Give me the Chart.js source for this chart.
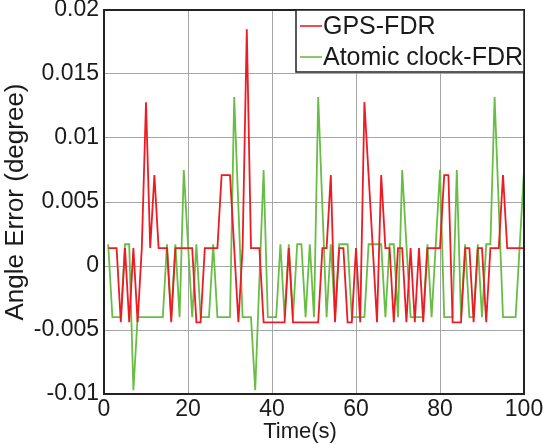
<!DOCTYPE html>
<html>
<head>
<meta charset="utf-8">
<script src="https://cdn.jsdelivr.net/npm/chart.js@4/dist/chart.umd.min.js"></script>
<style>
  html, body { margin: 0; padding: 0; background: #fff; }
  #wrap { width: 547px; height: 445px; }
</style>
</head>
<body>
<div id="wrap"><canvas id="errChart" width="547" height="445"></canvas></div>
<script>
// sample times (s)
const timeS = [1, 2, 3, 4, 5, 6, 7, 8, 9, 10, 11, 12, 13, 14, 15, 16, 17, 18, 19, 20,
  21, 22, 23, 24, 25, 26, 27, 28, 29, 30, 31, 32, 33, 34, 35, 36, 37, 38, 39, 40,
  41, 42, 43, 44, 45, 46, 47, 48, 49, 50, 51, 52, 53, 54, 55, 56, 57, 58, 59, 60,
  61, 62, 63, 64, 65, 66, 67, 68, 69, 70, 71, 72, 73, 74, 75, 76, 77, 78, 79, 80,
  81, 82, 83, 84, 85, 86, 87, 88, 89, 90, 91, 92, 93, 94, 95, 96, 97, 98, 99, 100];

// angle error, GPS-FDR (degree)
const gpsFdr = [
  0.0014, 0.0014, 0.0014, -0.0044, 0.0014, -0.0044, 0.0014, -0.0044, 0.0014, 0.0128,
  0.0014, 0.0071, 0.0014, 0.0014, 0.0014, -0.0044, 0.0014, 0.0014, 0.0014, 0.0014,
  0.0014, -0.0044, -0.0044, 0.0014, 0.0014, 0.0014, 0.0014, 0.0071, 0.0071, 0.0071,
  0.0014, -0.0044, 0.0014, 0.0185, 0.0014, 0.0014, 0.0014, -0.0044, -0.0044, -0.0044,
  -0.0044, -0.0044, -0.0044, 0.0014, -0.0044, -0.0044, -0.0044, -0.0044, -0.0044, -0.0044,
  -0.0044, 0.0014, 0.0014, 0.0071, -0.0044, 0.0014, 0.0014, -0.0044, -0.0044, 0.0014,
  -0.0044, 0.0128, 0.0071, 0.0014, -0.0044, 0.0071, 0.0014, 0.0014, -0.0044, 0.0014,
  0.0014, -0.0044, 0.0014, -0.0044, 0.0014, -0.0044, 0.0014, 0.0014, 0.0014, 0.0014,
  0.0071, 0.0071, -0.0044, -0.0044, -0.0044, 0.0014, 0.0014, -0.0044, 0.0014, 0.0014,
  -0.0044, 0.0014, 0.0014, 0.0014, 0.0071, 0.0014, 0.0014, 0.0014, 0.0014, 0.0014];

// angle error, Atomic clock-FDR (degree)
const atomicFdr = [
  0.0017, -0.004, -0.004, -0.004, 0.0017, 0.0017, -0.0097, -0.004, -0.004, -0.004,
  -0.004, -0.004, -0.004, -0.004, 0.0017, -0.004, 0.0017, -0.004, 0.0075, 0.0017,
  -0.004, 0.0017, -0.004, -0.004, -0.004, 0.0017, -0.004, -0.004, -0.004, -0.004,
  0.0132, 0.0046, -0.004, -0.004, -0.004, -0.0097, -0.0011, 0.0075, -0.004, -0.004,
  -0.004, 0.0017, -0.004, 0.0017, -0.004, 0.0017, 0.0017, -0.004, 0.0017, -0.004,
  0.0132, 0.0046, -0.004, 0.0017, -0.004, 0.0017, 0.0017, 0.0017, -0.004, -0.004,
  -0.004, -0.004, 0.0017, 0.0017, 0.0017, 0.0017, -0.004, 0.0017, 0.0017, -0.004,
  0.0075, 0.0017, -0.004, -0.004, -0.004, -0.004, 0.0017, -0.004, 0.0017, 0.0075,
  -0.004, -0.004, -0.004, 0.0075, -0.004, 0.0017, -0.004, -0.004, 0.0017, -0.004,
  0.0017, 0.0017, 0.0132, 0.0046, -0.004, -0.004, -0.004, -0.004, 0.0017, 0.0075];

const xTicks = [0, 20, 40, 60, 80, 100];
const yTicks = [-0.01, -0.005, 0, 0.005, 0.01, 0.015, 0.02];
const yTickLabels = ['-0.01', '-0.005', '0', '0.005', '0.01', '0.015', '0.02'];

const seriesNames = ['GPS-FDR', 'Atomic clock-FDR'];
const RED = 'rgb(236, 28, 36)';
const GREEN = 'rgb(104, 189, 69)';
const FONT = '"Liberation Sans", Arial, Helvetica, sans-serif';

const toPoints = (vals) => vals.map((v, i) => ({ x: timeS[i], y: v }));

// black box around the axes, MATLAB style
const frameBox = {
  id: 'frameBox',
  afterDatasetsDraw(chart) {
    const { ctx, chartArea: a } = chart;
    ctx.save();
    ctx.strokeStyle = '#222';
    ctx.lineWidth = 2;
    ctx.strokeRect(a.left, a.top, a.right - a.left, a.bottom - a.top);
    ctx.restore();
  }
};

// legend box in the top right corner of the axes
const boxLegend = {
  id: 'boxLegend',
  afterDraw(chart) {
    const { ctx, chartArea: a } = chart;
    const w = 228, h = 62;
    const x = a.right - w, y = a.top;
    ctx.save();
    ctx.fillStyle = '#fff';
    ctx.fillRect(x, y, w, h);
    ctx.strokeStyle = '#222';
    ctx.lineWidth = 1.5;
    ctx.strokeRect(x, y, w, h);
    const rows = [[seriesNames[0], RED, y + 16], [seriesNames[1], GREEN, y + 47]];
    ctx.font = '25px ' + FONT;
    ctx.textBaseline = 'middle';
    rows.forEach(([label, col, ly]) => {
      ctx.strokeStyle = col;
      ctx.lineWidth = 1.6;
      ctx.beginPath();
      ctx.moveTo(x + 4, ly);
      ctx.lineTo(x + 26, ly);
      ctx.stroke();
      ctx.fillStyle = '#1a1a1a';
      ctx.fillText(label, x + 27, ly + 1);
    });
    ctx.restore();
  }
};

// axis titles
const axisTitles = {
  id: 'axisTitles',
  afterDraw(chart) {
    const { ctx, chartArea: a } = chart;
    ctx.save();
    ctx.fillStyle = '#1a1a1a';
    ctx.textAlign = 'center';
    ctx.textBaseline = 'middle';
    ctx.font = '22px ' + FONT;
    ctx.fillText('Time(s)', 300, 432);
    ctx.translate(16, (a.top + a.bottom) / 2);
    ctx.rotate(-Math.PI / 2);
    ctx.font = '26px ' + FONT;
    ctx.fillText('Angle Error (degree)', 0, 0);
    ctx.restore();
  }
};

const ctx = document.getElementById('errChart').getContext('2d');
const errChart = new Chart(ctx, {
  type: 'line',
  data: {
    datasets: [{
      label: seriesNames[0],
      data: toPoints(gpsFdr),
      borderColor: RED,
      borderWidth: 1.8,
      pointRadius: 0,
      tension: 0,
      fill: false
    }, {
      label: seriesNames[1],
      data: toPoints(atomicFdr),
      borderColor: GREEN,
      borderWidth: 1.8,
      pointRadius: 0,
      tension: 0,
      fill: false
    }]
  },
  options: {
    responsive: false,
    animation: false,
    devicePixelRatio: 1,
    layout: { padding: { left: 0, right: 23, top: 10, bottom: 0 } },
    plugins: {
      legend: { display: false },
      tooltip: { enabled: false }
    },
    scales: {
      x: {
        type: 'linear',
        min: 0,
        max: 100,
        afterBuildTicks: (s) => { s.ticks = xTicks.map(v => ({ value: v })); },
        afterFit: (s) => { s.height = 51; s.paddingLeft = 0; s.paddingRight = 0; },
        ticks: {
          color: '#1a1a1a',
          font: { family: FONT, size: 23 },
          padding: 2,
          maxRotation: 0
        },
        grid: { color: '#a6a6a6', lineWidth: 1, drawTicks: false },
        border: { display: false }
      },
      y: {
        type: 'linear',
        min: -0.01,
        max: 0.02,
        afterBuildTicks: (s) => { s.ticks = yTicks.map(v => ({ value: v })); },
        afterFit: (s) => { s.width = 104; s.paddingTop = 0; s.paddingBottom = 0; },
        ticks: {
          color: '#1a1a1a',
          font: { family: FONT, size: 23 },
          padding: 5,
          callback: (v, i) => yTickLabels[i]
        },
        grid: { color: '#a6a6a6', lineWidth: 1, drawTicks: false },
        border: { display: false }
      }
    }
  },
  plugins: [frameBox, boxLegend, axisTitles]
});
</script>
</body>
</html>
